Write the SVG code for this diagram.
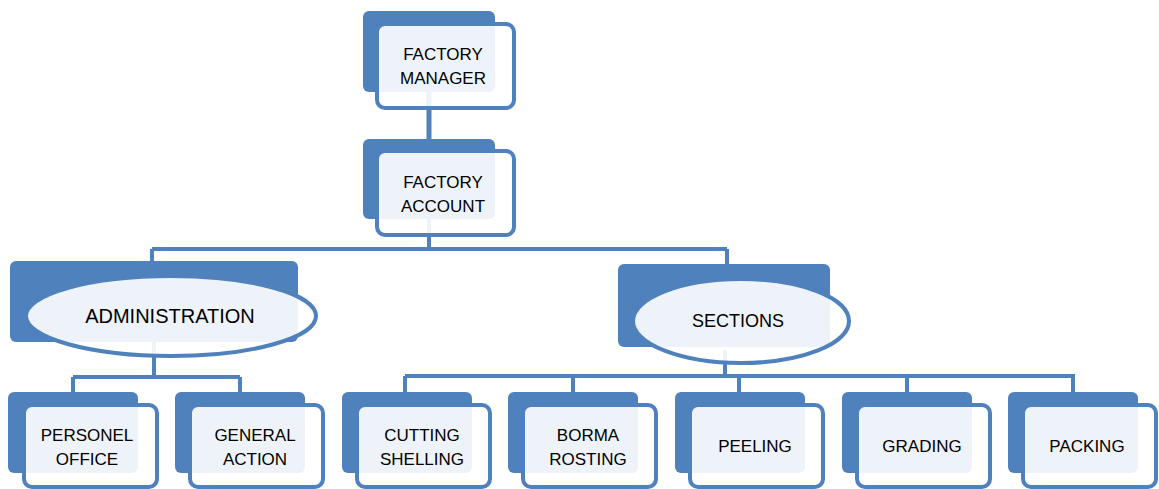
<svg xmlns="http://www.w3.org/2000/svg" width="1159" height="489" viewBox="0 0 1159 489">
<style>
.back{fill:#4F81BD}
.front{fill:#fff;fill-opacity:0.9;stroke:#4F81BD;stroke-width:4}
.conn{fill:none;stroke:#4F81BD;stroke-width:4}
text{font-family:"Liberation Sans",Arial,sans-serif;font-size:17px;fill:#000;text-anchor:middle}
</style>
<rect width="1159" height="489" fill="#fff"/>
<g id="connectors">
<path class="conn" style="stroke-width:5" d="M429,92 V140"/>
<path class="conn" d="M429,218 V249 M152,249 H727 M152,249 V262 M727,249 V265"/>
<path class="conn" d="M154,342 V377 M73,377 H240 M73,377 V393 M240,377 V393"/>
<path class="conn" d="M725,350 V376 M405,376 H1075 M405,376 V393 M573,376 V393 M739,376 V393 M907,376 V393 M1073,376 V393"/>
</g>
<g id="factory-manager">
<rect class="back" x="363" y="11" width="132" height="81" rx="6"/>
<rect class="front" x="377" y="24" width="137" height="84" rx="8"/>
<text x="443" y="60">FACTORY</text>
<text x="443" y="84">MANAGER</text>
</g>
<g id="factory-account">
<rect class="back" x="363" y="139" width="132" height="80" rx="6"/>
<rect class="front" x="377" y="151" width="137" height="84" rx="8"/>
<text x="443" y="188">FACTORY</text>
<text x="443" y="212">ACCOUNT</text>
</g>
<g id="administration">
<rect class="back" x="10" y="261" width="288" height="81" rx="6"/>
<ellipse class="front" cx="171" cy="316" rx="145" ry="40"/>
<text x="170" y="323" style="font-size:20px">ADMINISTRATION</text>
</g>
<g id="sections">
<rect class="back" x="618" y="264" width="212" height="83" rx="6"/>
<ellipse class="front" cx="741" cy="321" rx="108" ry="42"/>
<text x="738" y="327" style="font-size:18px">SECTIONS</text>
</g>
<g id="personel-office">
<rect class="back" x="8" y="392" width="130" height="81" rx="6"/>
<rect class="front" x="24" y="405" width="133" height="82" rx="8"/>
<text x="87" y="441">PERSONEL</text>
<text x="87" y="465">OFFICE</text>
</g>
<g id="general-action">
<rect class="back" x="175" y="392" width="130" height="81" rx="6"/>
<rect class="front" x="190" y="405" width="133" height="82" rx="8"/>
<text x="255" y="441">GENERAL</text>
<text x="255" y="465">ACTION</text>
</g>
<g id="cutting-shelling">
<rect class="back" x="342" y="392" width="130" height="81" rx="6"/>
<rect class="front" x="357" y="405" width="133" height="82" rx="8"/>
<text x="422" y="441">CUTTING</text>
<text x="422" y="465">SHELLING</text>
</g>
<g id="borma-rosting">
<rect class="back" x="508" y="392" width="130" height="81" rx="6"/>
<rect class="front" x="523" y="405" width="133" height="82" rx="8"/>
<text x="588" y="441">BORMA</text>
<text x="588" y="465">ROSTING</text>
</g>
<g id="peeling">
<rect class="back" x="675" y="392" width="130" height="81" rx="6"/>
<rect class="front" x="690" y="405" width="133" height="82" rx="8"/>
<text x="755" y="452">PEELING</text>
</g>
<g id="grading">
<rect class="back" x="842" y="392" width="130" height="81" rx="6"/>
<rect class="front" x="857" y="405" width="133" height="82" rx="8"/>
<text x="922" y="452">GRADING</text>
</g>
<g id="packing">
<rect class="back" x="1008" y="392" width="130" height="81" rx="6"/>
<rect class="front" x="1023" y="405" width="133" height="82" rx="8"/>
<text x="1087" y="452">PACKING</text>
</g>
</svg>
